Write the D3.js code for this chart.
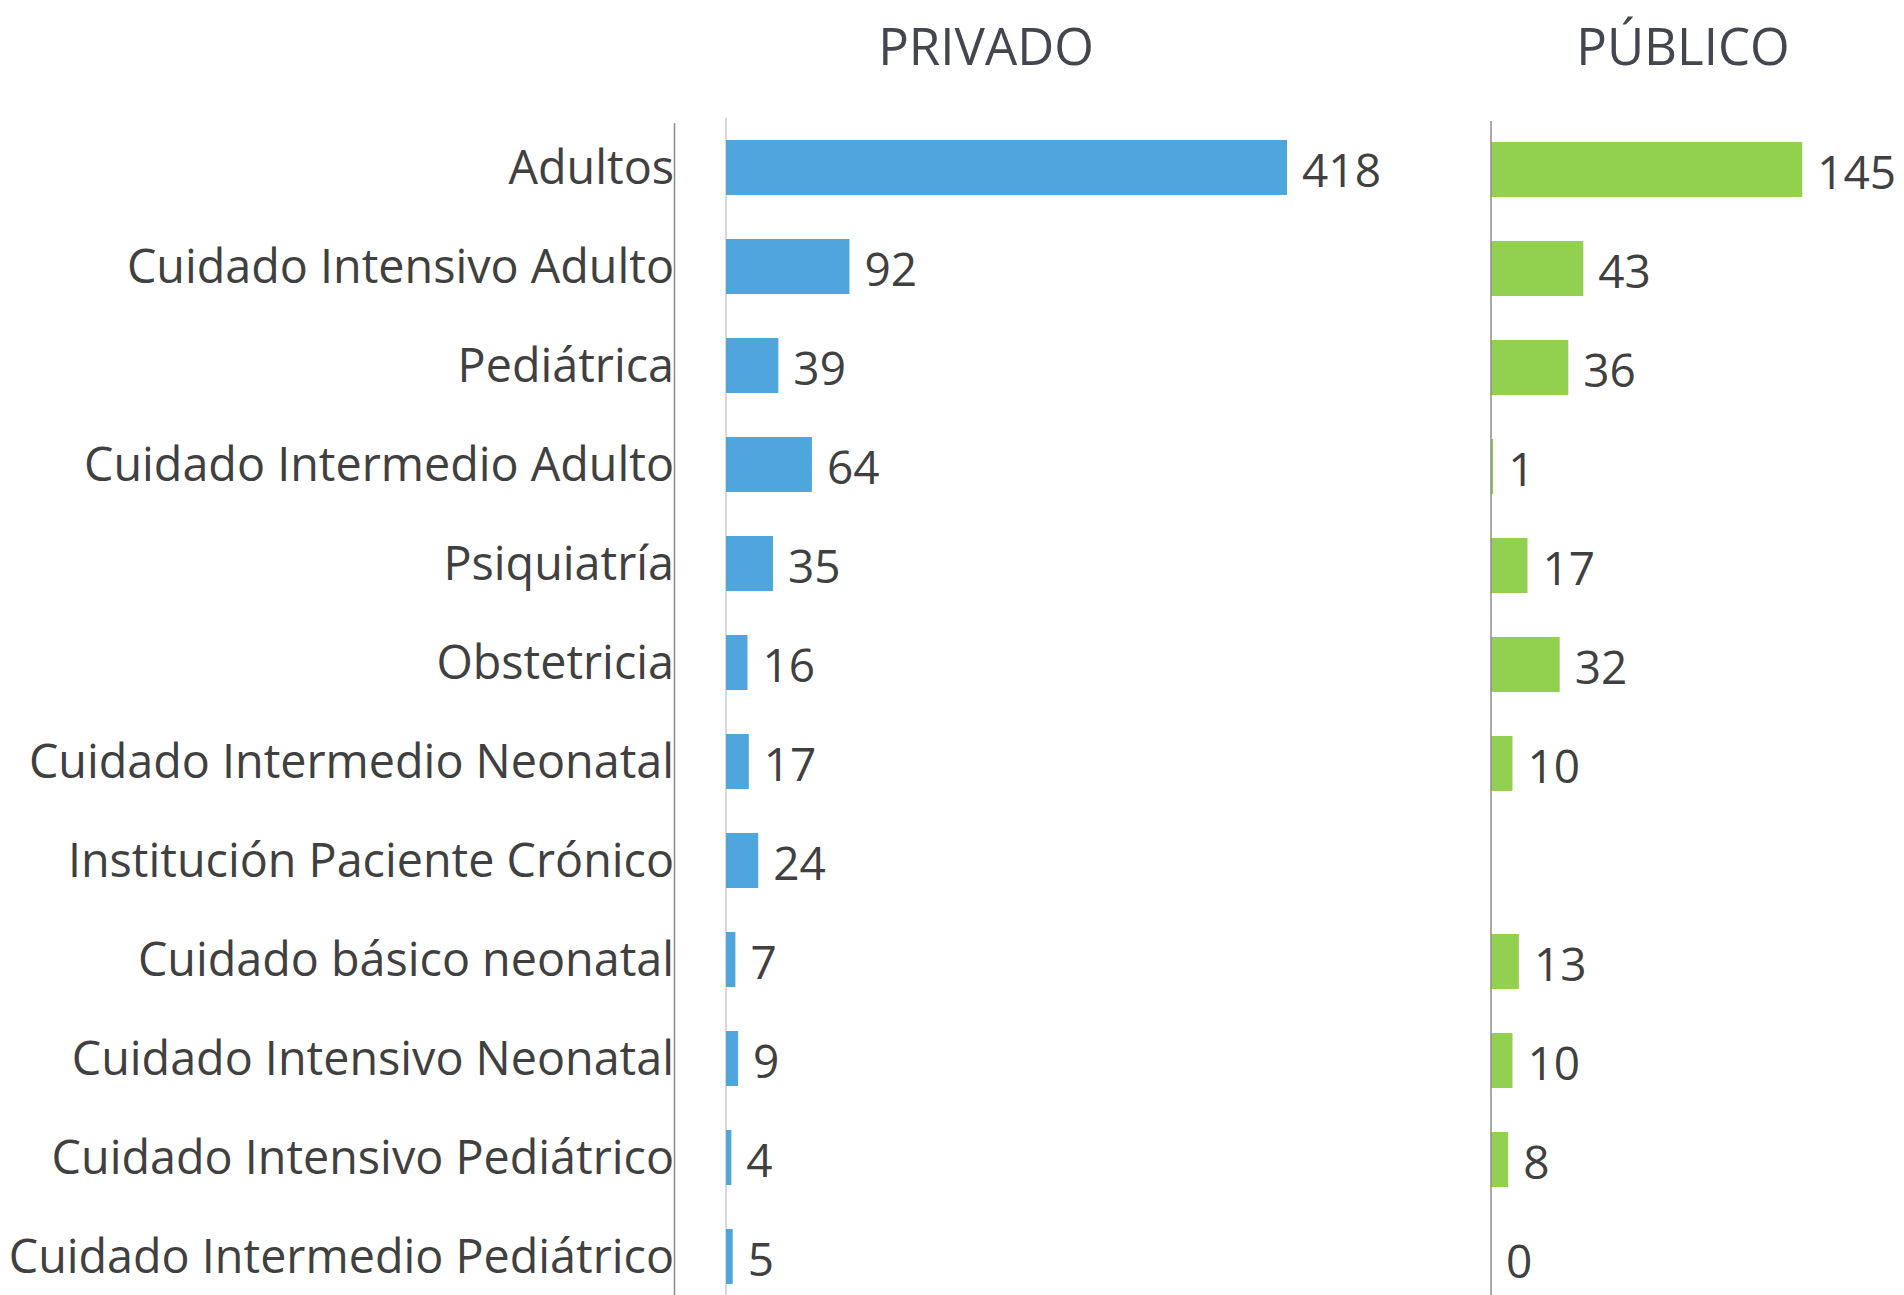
<!DOCTYPE html>
<meta charset="utf-8">
<style>
body { margin: 0; background: #fff; }
.cat text { font: 46.7px "Open Sans", sans-serif; fill: #404040; text-anchor: end; }
.val { font: 46px "Open Sans", sans-serif; fill: #404040; }
.title { font: 51px "Open Sans", sans-serif; fill: #44464f; text-anchor: middle; }
</style>
<body>
<script src="https://d3js.org/d3.v7.min.js"></script>
<script>

var categories = ["Adultos", "Cuidado Intensivo Adulto", "Pediátrica", "Cuidado Intermedio Adulto",
  "Psiquiatría", "Obstetricia", "Cuidado Intermedio Neonatal", "Institución Paciente Crónico",
  "Cuidado básico neonatal", "Cuidado Intensivo Neonatal", "Cuidado Intensivo Pediátrico",
  "Cuidado Intermedio Pediátrico"];
var privado = [418, 92, 39, 64, 35, 16, 17, 24, 7, 9, 4, 5];
var publico = [145, 43, 36, 1, 17, 32, 10, null, 13, 10, 8, 0];
var titles = ["PRIVADO", "PÚBLICO"];

var width = 1904, height = 1295;

var svg = d3.select("body").append("svg")
    .attr("width", width)
    .attr("height", height);

var y = d3.scaleBand()
    .domain(categories)
    .range([118, 1306])
    .paddingInner(0.444)
    .paddingOuter(0.222);

var xPriv = d3.scaleLinear().domain([0, 450]).range([726, 1330]);
var xPub = d3.scaleLinear().domain([0, 150]).range([1491, 1813]);

// category labels
var cat = svg.append("g").attr("class", "cat");
cat.selectAll("text")
    .data(categories)
  .enter().append("text")
    .attr("x", 674)
    .attr("y", function(d) { return y(d) + y.bandwidth() / 2; })
    .attr("dy", "0.35em")
    .text(function(d) { return d; });

// axis lines
svg.append("line").attr("x1", 674.5).attr("x2", 674.5).attr("y1", 123).attr("y2", height)
    .attr("stroke", "#8c8c8c").attr("stroke-width", 1.5);
svg.append("line").attr("x1", 726).attr("x2", 726).attr("y1", 118).attr("y2", height)
    .attr("stroke", "#d9d9d9").attr("stroke-width", 2);

function panel(values, x, color, shift) {
  var g = svg.append("g").attr("transform", "translate(0," + shift + ")");
  var rows = categories.map(function(c, i) { return {cat: c, v: values[i]}; })
      .filter(function(d) { return d.v != null; });

  g.selectAll("rect")
      .data(rows)
    .enter().append("rect")
      .attr("x", x(0))
      .attr("y", function(d) { return y(d.cat); })
      .attr("width", function(d) { return x(d.v) - x(0); })
      .attr("height", y.bandwidth())
      .attr("fill", color);

  g.selectAll("text")
      .data(rows)
    .enter().append("text")
      .attr("class", "val")
      .attr("x", function(d) { return x(d.v) + 15; })
      .attr("y", function(d) { return y(d.cat) + y.bandwidth() / 2 + 3; })
      .attr("dy", "0.35em")
      .text(function(d) { return d.v; });
}

panel(privado, xPriv, "#4fa6dc", 0);
panel(publico, xPub, "#92d050", 2);

svg.append("line").attr("x1", 1491).attr("x2", 1491).attr("y1", 121).attr("y2", height)
    .attr("stroke", "#8c8c8c").attr("stroke-width", 1.5);

svg.selectAll(".title")
    .data(titles)
  .enter().append("text")
    .attr("class", "title")
    .attr("x", function(d, i) { return i === 0 ? 986 : 1683; })
    .attr("y", 65)
    .text(function(d) { return d; });

</script>
</body>
